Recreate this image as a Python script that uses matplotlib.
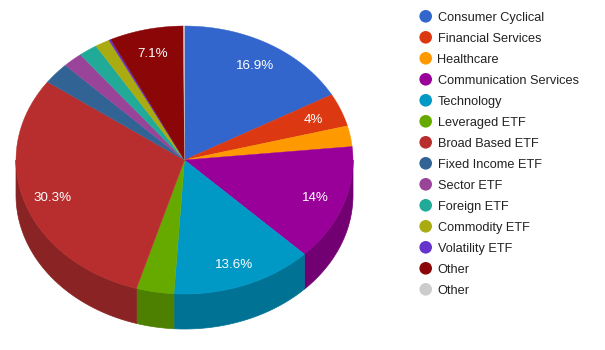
import numpy as np
import matplotlib.pyplot as plt
import matplotlib.colors as mcolors
from matplotlib.patches import Polygon, Circle

plt.rcParams['font.family'] = ['Liberation Sans', 'DejaVu Sans']

# portfolio breakdown (percent)
categories = ['Consumer Cyclical', 'Financial Services', 'Healthcare',
              'Communication Services', 'Technology', 'Leveraged ETF',
              'Broad Based ETF', 'Fixed Income ETF', 'Sector ETF',
              'Foreign ETF', 'Commodity ETF', 'Volatility ETF', 'Other', 'Other']
shares = [16.9, 4.0, 2.5, 14.0, 13.6, 3.6, 30.3, 2.6, 1.9, 1.8, 1.4, 0.2, 7.1, 0.1]
colors = ['#3366cc', '#dc3912', '#ff9900', '#990099', '#0099c6', '#66aa00',
          '#b82e2e', '#316395', '#994499', '#22aa99', '#aaaa11', '#6633cc',
          '#8b0707', '#cccccc']

fig = plt.figure(figsize=(6.05, 3.5), dpi=100)
ax = fig.add_axes([0, 0, 1, 1])
ax.set_xlim(0, 605)
ax.set_ylim(350, 0)
ax.axis('off')

# pie geometry in pixels
cx, cy, rx, ry, depth = 184.5, 160, 168.5, 134, 35

total = sum(shares)
fracs = np.array(shares) / total
bounds = np.concatenate([[0], np.cumsum(fracs)]) * 2 * np.pi


def darker(c, f=0.75):
    return tuple(v * f for v in mcolors.to_rgb(c))


def arc(t):
    return cx + rx * np.sin(t), cy - ry * np.cos(t)


# front wall (only the lower half of the ellipse is visible)
for i, c in enumerate(colors):
    a = max(bounds[i], np.pi / 2)
    b = min(bounds[i + 1], 3 * np.pi / 2)
    if b <= a:
        continue
    t = np.linspace(a, b, 80)
    x, y = arc(t)
    xs = np.concatenate([x, x[::-1]])
    ys = np.concatenate([y, (y + depth)[::-1]])
    ax.add_patch(Polygon(np.column_stack([xs, ys]), closed=True,
                         facecolor=darker(c), edgecolor=darker(c), linewidth=0.5))

# top face
for i, c in enumerate(colors):
    t = np.linspace(bounds[i], bounds[i + 1], max(3, int(fracs[i] * 400)))
    x, y = arc(t)
    xs = np.concatenate([[cx], x])
    ys = np.concatenate([[cy], y])
    ax.add_patch(Polygon(np.column_stack([xs, ys]), closed=True,
                         facecolor=c, edgecolor=c, linewidth=0.3))

# slice labels (baseline shifted by half the cap height)
for i, s in enumerate(shares):
    if fracs[i] < 0.04:
        continue
    mid = (bounds[i] + bounds[i + 1]) / 2
    lx = cx + 0.825 * rx * np.sin(mid)
    ly = cy - 0.825 * ry * np.cos(mid)
    pct = round(s / total * 100, 1)
    ax.text(lx, ly + 4.7, f'{pct:g}%', color='white', fontsize=9.6,
            ha='center', va='baseline')

# legend
for i, (name, c) in enumerate(zip(categories, colors)):
    y = 16.3 + i * 21.0
    ax.add_patch(Circle((425.7, y), 6.3, facecolor=c, edgecolor='none'))
    ax.text(437.5, y + 4.6, name, color='#222222', fontsize=9.2,
            ha='left', va='baseline')

fig.savefig('out.png', dpi=100, facecolor='white')
